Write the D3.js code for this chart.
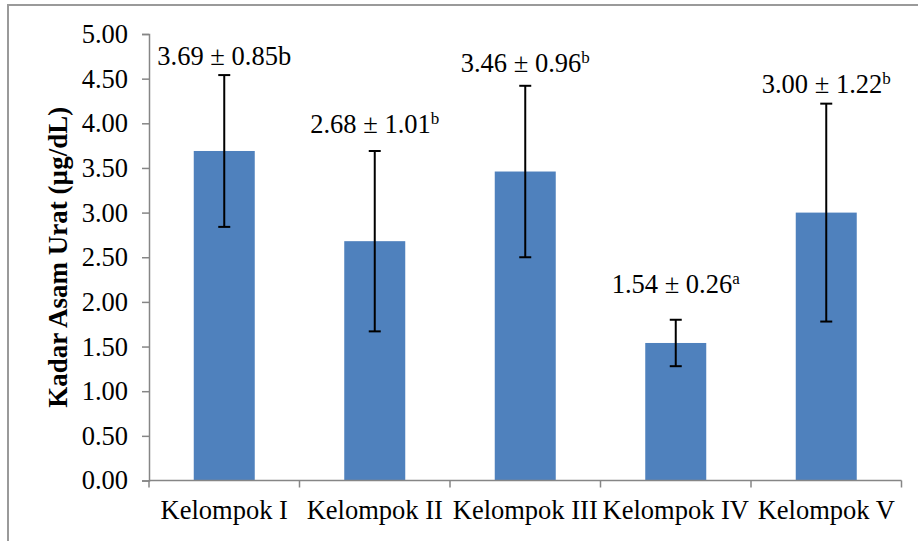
<!DOCTYPE html>
<html><head><meta charset="utf-8">
<script src="https://cdn.jsdelivr.net/npm/d3@7/dist/d3.min.js"></script>
<style>body{margin:0;background:#fff}svg{display:block}text{font-family:"Liberation Serif","Times New Roman",serif;fill:#000}</style>
</head><body><svg id="c" width="918" height="541"></svg>
<script>
const categories = ["Kelompok I","Kelompok II","Kelompok III","Kelompok IV","Kelompok V"];
const means = [3.69, 2.68, 3.46, 1.54, 3.00];
const sds = [0.85, 1.01, 0.96, 0.26, 1.22];
const letters = ["b","b","b","a","b"];
const letterSup = [false, true, true, true, true];
const labelAt = [4.65, 3.89, 4.57, 2.10, 4.34];
const yTicks = [0,0.5,1,1.5,2,2.5,3,3.5,4,4.5,5];
const yTitle = "Kadar Asam Urat (µg/dL)";

const svg = d3.select("#c");
svg.append("rect").attr("x",8).attr("y",5).attr("width",930).attr("height",560)
  .attr("fill","none").attr("stroke","#9a9a9a").attr("stroke-width",2);

const L=149, R=901.5, T=34, B=480.5;
const xb = d3.scaleBand().domain(categories).range([L,R]);
const y = d3.scaleLinear().domain([0,5]).range([B,T]);
const FS = "26.5px";

// bars
svg.selectAll(".bar").data(categories).enter().append("rect")
  .attr("x",d=>xb(d)+xb.bandwidth()/2-30.5).attr("width",61)
  .attr("y",(d,i)=>y(means[i])).attr("height",(d,i)=>B-y(means[i]))
  .attr("fill","#4F81BD");

// y axis
const ya = svg.append("g").attr("transform",`translate(${L},0)`)
  .call(d3.axisLeft(y).tickValues(yTicks).tickFormat(d3.format(".2f")).tickSize(7).tickPadding(14));
ya.select(".domain").attr("stroke","#868686").attr("stroke-width",1.5);
ya.selectAll(".tick line").attr("stroke","#868686").attr("stroke-width",1.5);
ya.selectAll(".tick text").style("font-size",FS).attr("fill","#000");

// x axis
const xa = svg.append("g").attr("transform",`translate(0,${B})`);
xa.append("line").attr("x1",L).attr("x2",R).attr("stroke","#868686").attr("stroke-width",1.5);
const bounds = categories.map(c=>xb(c)).concat([R]);
xa.selectAll(".tk").data(bounds).enter().append("line")
  .attr("x1",d=>d).attr("x2",d=>d).attr("y1",0).attr("y2",7)
  .attr("stroke","#868686").attr("stroke-width",1.5);
xa.selectAll(".lbl").data(categories).enter().append("text")
  .attr("x",d=>xb(d)+xb.bandwidth()/2).attr("y",38.5).attr("text-anchor","middle")
  .style("font-size",FS).text(d=>d);

// error bars
const eb = svg.append("g").attr("stroke","#000").attr("stroke-width",2);
categories.forEach((c,i)=>{
  const cx = xb(c)+xb.bandwidth()/2;
  const y1 = y(means[i]+sds[i]), y2 = y(means[i]-sds[i]);
  eb.append("line").attr("x1",cx).attr("x2",cx).attr("y1",y1).attr("y2",y2);
  eb.append("line").attr("x1",cx-6).attr("x2",cx+6).attr("y1",y1).attr("y2",y1);
  eb.append("line").attr("x1",cx-6).attr("x2",cx+6).attr("y1",y2).attr("y2",y2);
});

// value labels
categories.forEach((c,i)=>{
  const cx = xb(c)+xb.bandwidth()/2;
  const t = svg.append("text").attr("x",cx).attr("y",y(labelAt[i])).attr("text-anchor","middle")
    .style("font-size",FS);
  t.append("tspan").text(means[i].toFixed(2)+" ± "+sds[i].toFixed(2));
  if(letterSup[i]){
    t.append("tspan").attr("dy",-9).style("font-size","17px").text(letters[i]);
  } else {
    t.append("tspan").text(letters[i]);
  }
});

// y title
svg.append("text").attr("transform",`translate(66.5,${(T+B)/2}) rotate(-90)`)
  .attr("text-anchor","middle").style("font-size","27px").style("font-weight","bold").text(yTitle);
</script></body></html>
